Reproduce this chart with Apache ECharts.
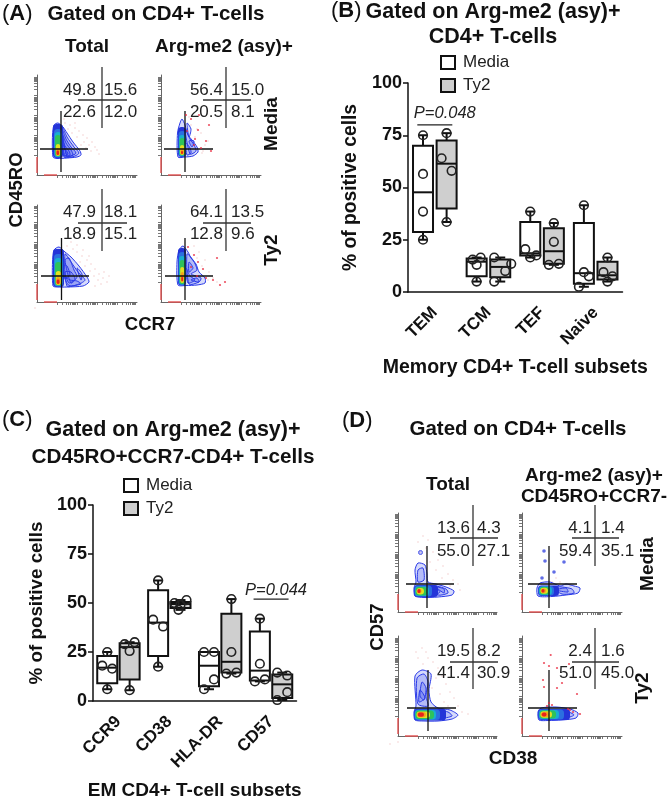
<!DOCTYPE html>
<html><head><meta charset="utf-8">
<style>html,body{margin:0;padding:0;background:#fff}#c{width:669px;height:801px}</style>
<script src="https://cdn.jsdelivr.net/npm/echarts@6/dist/echarts.min.js"></script>
</head><body><div id="c"></div>
<script>
// ---------- box plot data ----------
const catsB = ['TEM','TCM','TEF','Naive'];
const catsC = ['CCR9','CD38','HLA-DR','CD57'];
const yTicks = [0,25,50,75,100];
// [min, q1, median, q3, max]
const boxB_Media = [[25,28.7,47.7,70,75],[5,7.5,14.5,16,16.5],[16.5,17.5,18.5,33.5,38.5],[2.5,4,9,33,41.5]];
const boxB_Ty2   = [[33.5,40,61.4,72.5,76],[5,7,12,15.5,16.5],[13,13.5,19.5,30.5,33],[5,6,8,14.5,16.5]];
const boxC_Media = [[6,9,17,23,25],[17.5,23,40,56.5,61.5],[6,7.5,18,25,25],[10,10.5,15.5,35.5,42]];
const boxC_Ty2   = [[5.5,11,27.5,29.5,30],[46.5,47.5,49.5,50.5,51.5],[14,14.5,20,44.5,52],[0.5,1.5,8.5,13.5,14.5]];
const ptsB_Media = [[25,38.5,56.5,75],[5,13,15.5,16.5],[16.5,17.5,20.5,38.5],[2.5,7.5,9.5,41.5]];
const ptsB_Ty2   = [[33.5,58,64,76],[5,10,13.5,16.5],[13,13.5,24,33],[5,7.5,9.5,16.5]];
const ptsC_Media = [[6,16.5,18,25],[17.5,38,41.5,61.5],[6,11,25,25],[10,11,19,42]];
const ptsC_Ty2   = [[5.5,25.5,29,30],[46.5,49,50,51.5],[14,14.5,25,52],[0.5,4.5,13,14.5]];
// sideways dodge of the overlapping circles
const dodgeB_Media = [[0,0,0,0],[0,0,-4,4],[0,6,-5,0],[-5,5,0,0]];
const dodgeB_Ty2   = [[0,5,-5,0],[-6,5,11,-6],[-5,5,0,0],[0,5,-4,0]];
const dodgeC_Media = [[0,5,-5,0],[0,5,-5,0],[-5,5,-5,5],[-5,5,0,0]];
const dodgeC_Ty2   = [[0,0,-5,5],[-2,0,-6,6],[-5,5,0,0],[-5,5,5,-5]];

// ---------- flow cytometry panels ----------
const quadA1 = ['49.8','15.6','22.6','12.0'];
const quadA2 = ['56.4','15.0','20.5','8.1'];
const quadA3 = ['47.9','18.1','18.9','15.1'];
const quadA4 = ['64.1','13.5','12.8','9.6'];
const quadD1 = ['13.6','4.3','55.0','27.1'];
const quadD2 = ['4.1','1.4','59.4','35.1'];
const quadD3 = ['19.5','8.2','41.4','30.9'];
const quadD4 = ['2.4','1.6','51.0','45.0'];

const hazeA1 = [[28,52],[33,50],[38,47],[42,44],[46,40],[50,37],[52,30],[47,33],[40,38],[35,42],[31,46],[55,33],[58,28],[60,25],[44,30],[49,27],[54,24],[38,52],[27,56],[62,21],[36,30],[41,26]];
const hazeA2 = [[30,50],[36,46],[40,42],[44,30],[41,22],[47,34],[34,38],[28,58],[42,24]];
const hazeA3 = [[30,56],[36,53],[40,50],[45,46],[50,42],[54,38],[58,33],[62,28],[66,24],[70,20],[48,36],[53,31],[57,26],[61,22],[43,40],[34,60],[40,57],[46,52],[52,46],[67,30],[72,26],[64,18],[58,16],[-2,-6]];
const hazeA4 = [[33,56],[38,50],[44,42],[48,30],[52,24],[56,20],[36,44],[41,36],[47,22]];
const hazeD1 = [[20,70],[25,76],[30,72],[35,60],[40,52],[45,46],[50,38],[32,50],[38,42],[55,32],[60,28],[22,60],[28,64],[44,34],[62,22],[52,26]];
const hazeD2 = [[34,34],[38,30],[44,28],[48,26],[30,30]];
const hazeD3 = [[18,84],[24,88],[30,78],[35,74],[40,68],[25,72],[44,60],[48,52],[38,58],[52,44],[34,48],[42,42],[56,38],[60,30],[46,34],[64,24],[70,22],[20,78],[28,84],[50,30],[-8,-8],[0,-6]];
const dotsD2 = [[22,61],[23,51],[42,50],[32,40],[20,34]];
const dotsD4 = [[28.7,81],[22,73],[27,70],[35,68],[47,72],[21,56],[22,49],[35,48],[40,53],[55,42],[27,33],[30,31],[58,22],[51,24],[25,30],[46,27],[48,26]];
const dotsA2 = [[25,60],[30,56],[38,60],[48,50],[45,34],[37,45],[50,24],[33,30],[40,27],[26,44],[34,36]];
const dotsA4 = [[27,55],[33,47],[37,40],[42,33],[52,22],[59,17],[64,20],[36,26],[30,35],[45,24],[56,44]];

// contour outlines
const contA1 = [[[16,18],[15.5,40],[17,50],[21,52],[26,48],[30,42],[36,33],[43,24],[44,20],[40,18],[30,17],[20,16.5]],[[25,49],[30,38],[37,28],[42,22],[38,19],[30,18]],[[25,46],[29,36],[34,28],[39,22],[34,19],[27,18]],[[25,42],[29,32],[34,25],[36,20],[30,19]],[[25,36],[28,29],[32,24],[33,20],[28,19]],[[25,32],[28,26],[31,21],[27,19]]];
const contA2 = [[[17,18],[16.5,42],[19,52],[21,56],[24,50],[27,40],[31,35],[36,28],[37,23],[32,19],[24,18]],[[24,46],[29,36],[33,30],[35,24],[29,21]],[[26,52],[30,46],[28,38]],[[28,34],[33,34],[31,28]],[[25,32],[29,27],[30,22],[26,20]]];
const contA3 = [[[16,16],[15.5,40],[17,52],[22,55],[28,50],[34,45],[42,36],[50,25],[52,20],[46,16],[30,15],[20,15]],[[28,48],[34,40],[41,30],[48,22],[42,18],[30,16]],[[28,42],[32,44],[37,32],[40,25],[34,19]],[[28,30],[34,30],[38,23],[32,19]],[[40,34],[45,28],[44,22]],[[27,26],[33,22],[40,21],[44,18],[32,16.5]],[[27,37],[30,36],[33,27],[28,24]]];
const contA4 = [[[17,17],[16,40],[18,52],[22,56],[27,50],[30,44],[35,38],[38,30],[44,24],[44,19],[36,17],[25,16.5]],[[26,48],[32,42],[36,32],[30,28],[40,24],[38,20],[28,18]],[[28,40],[32,34],[28,30]],[[30,22],[36,24],[38,20]],[[25,34],[29,26],[34,22],[27,19]]];
const contD1 = [[[17,16],[16,24],[18,30],[17,42],[20,49],[27,47],[29,38],[30,30],[38,28],[48,25],[56,21],[54,17],[40,15],[26,14.5]],[[20,30],[20,42],[25,44],[26,32]],[[36,26],[48,23],[50,19],[40,17]],[[27,25],[36,25],[42,20],[34,17]],[[21,61],[24,61],[24,58],[21,58]],[[38,25],[46,23],[46,19]]];
const contD2 = [[[16,16],[15,24],[18,29],[28,30],[38,26],[44,28],[52,26],[58,24],[56,19],[44,17],[30,15.5]],[[30,25],[40,25],[50,23],[52,19],[40,18]],[[34,22],[44,24],[46,20]]];
const contD3 = [[[17,16],[16,24],[18,30],[17,60],[24,66],[33,62],[31,46],[33,34],[40,28],[52,26],[60,21],[54,17],[40,15],[26,15]],[[20,32],[19,58],[26,62],[30,54],[28,40],[30,30]],[[22,40],[24,54],[28,48],[26,36]],[[36,26],[50,24],[54,20],[42,18]],[[28,26],[40,24],[46,20],[36,17]],[[21,34],[22,46],[27,38]]];
const contD4 = [[[17,16],[16,24],[19,28],[34,29],[48,27],[56,23],[54,18],[40,16],[26,15.5]],[[30,26],[44,25],[52,21],[42,18]]];

// filled density levels: [x0, x1, y0, y1]
const coreA1 = [[16,26,17,51],[17,25,17.5,46],[17.5,24.5,18,43],[18,24,18.5,40],[18.8,23.2,19,31],[19.2,22.8,19.5,27],[19.5,22,20,24.5]];
const coreA2 = [[17,25,18,48],[17.6,24.6,18.5,44],[18,24.2,19,40],[18.5,23.8,19.5,37],[19,23.2,20,30],[19.5,22.8,20.5,26],[20,22,21,24]];
const coreA3 = [[16,27,15,53],[17,26,15.5,48],[17.5,25.3,16,44],[18,24.8,16.5,40],[18.8,24,17,31],[19.2,23,17.5,25],[19.6,22.5,18,22.5]];
const coreA4 = [[17,25,16.5,54],[17.6,24.6,17,50],[18,24.2,17.5,46],[18.6,23.8,18,42],[19.2,23.2,19,35],[19.8,22.8,20,30],[20.3,22,21,25]];
const coreD1 = [[16,40,15,27],[16.5,34,15.5,26.5],[17,31,16,25.5],[17.5,29,16.5,25],[18.5,26,17.5,24],[19,23.5,18.5,23.5],[19.5,22.5,19,23]];
const coreD2 = [[16,37,16,26.5],[16.5,32,16.5,26],[17,30,17,25.5],[17.5,28,17.5,25],[18.3,26,18.3,24.3],[18.8,24,19,23.5],[19.5,22.5,19.5,23]];
const coreD3 = [[16,48,15.5,27.5],[16.5,42,16,26.5],[17,38,16.5,26],[17.5,36,17,25.5],[18.5,32,18,24.5],[19,28,18.8,24],[19.8,26,19.2,23.4]];
const coreD4 = [[16,48,16,27],[16.5,42,16.5,26.5],[17,37,17,26],[17.5,34,17.5,25.5],[18.3,30,18.3,24.8],[19,27,19,24],[19.8,24.5,19.5,23.5]];

// ---------- fixed page layout ----------
const FONT = '"Liberation Sans", Arial, sans-serif';
const INK = '#111';
const levels = ['#2434d8','#2b6fe0','#18aed0','#2ec25a','#e3e021','#f5a01e','#e8231c'];

const panels = [
 {g:[37,75,100,100], q:quadA1, c:contA1, k:coreA1, h:hazeA1, up:[41,90,75,65,108,47], lo:[3,51,26,24,64,3], n:[59,67,85,63]},
 {g:[161,75,100,100],q:quadA2, c:contA2, k:coreA2, h:hazeA2, up:[42,90,75,65,108,47], lo:[3,52,26,24,64,3], n:[62,70,85,63], d:dotsA2},
 {g:[37,205,100,97], q:quadA3, c:contA3, k:coreA3, h:hazeA3, up:[41,90,79,65,113,51], lo:[4,52,26,24.5,64,2], n:[59,67,90,68]},
 {g:[161,205,100,97],q:quadA4, c:contA4, k:coreA4, h:hazeA4, up:[42,90,79,65,113,51], lo:[4,52,26,24,64,2], n:[62,70,90,68], d:dotsA4},
 {g:[398,513,99,99], q:quadD1, c:contD1, k:coreD1, h:hazeD1, up:[52,100,74,75,107,46], lo:[8,56,28,29,66,4], n:[72,79,84,61]},
 {g:[522,513,100,99],q:quadD2, c:contD2, k:coreD2, h:hazeD2, up:[50,97,74,73,107,46], lo:[6,55,28,27,66,4], n:[70,79,84,61], d:dotsD2, dc:'#3a48e0'},
 {g:[398,636,99,100],q:quadD3, c:contD3, k:coreD3, h:hazeD3, up:[52,100,74,75,108,47], lo:[9,58,28,30,66,5], n:[72,79,85,63]},
 {g:[522,636,100,100],q:quadD4,c:contD4, k:coreD4, h:[], up:[50,97,74,73,108,47], lo:[6,55,28,27,66,5], n:[70,79,85,63], d:dotsD4}
];
const logTicks = [];
[20,40,60,80].forEach(b=>[1,2,3,4,5,6,7,8,9].forEach(k=>logTicks.push(b+Math.log10(k)*19)));

const grid=[],xAxis=[],yAxis=[],series=[];
function lineEl(api,a,b,color,w){
  const p=api.coord(a),q=api.coord(b);
  return {type:'line',shape:{x1:p[0],y1:p[1],x2:q[0],y2:q[1]},style:{stroke:color,lineWidth:w}};
}
panels.forEach((P,i)=>{
  grid.push({left:P.g[0],top:P.g[1],width:P.g[2],height:P.g[3]});
  const ax=(m)=>({type:'value',gridIndex:i,min:0,max:m,splitLine:{show:false},axisLabel:{show:false},
    axisLine:{show:true,lineStyle:{color:'#666',width:1}},
    axisTick:{show:true,length:3,customValues:logTicks.filter(v=>v<=m),lineStyle:{color:'#666',width:0.9}}});
  xAxis.push(ax(P.g[2])); yAxis.push(ax(P.g[3]));
  series.push({type:'scatter',name:'events'+i,xAxisIndex:i,yAxisIndex:i,data:P.h,symbolSize:1.4,clip:false,silent:true,
    itemStyle:{color:'#eaa0a0',opacity:.6},z:1});
  if(P.d) series.push({type:'scatter',name:'rare'+i,xAxisIndex:i,yAxisIndex:i,data:P.d,symbolSize:P.dc?3.6:2.2,silent:true,
    itemStyle:{color:P.dc||'#e8283c'},z:4});
  series.push({type:'custom',name:'gate'+i,xAxisIndex:i,yAxisIndex:i,silent:true,z:3,data:[[0,0]],
    renderItem:(params,api)=>{
      const kids=[];
      // red edge of the axes
      kids.push(lineEl(api,[7,0],[20,0],'#e25050',1.4));
      kids.push(lineEl(api,[0,2],[0,18],'#e25050',1.4));
      P.c.forEach((poly,j)=>kids.push({type:'polygon',shape:{points:poly.map(v=>api.coord(v)),smooth:0.25},
        style:{fill:'rgba(50,70,235,.2)',stroke:'#2a3ae8',lineWidth:1}}));
      P.k.forEach((r,j)=>{
        const a=api.coord([r[0],r[3]]),b=api.coord([r[1],r[2]]);
        kids.push({type:'rect',shape:{x:a[0],y:a[1],width:b[0]-a[0],height:b[1]-a[1],r:Math.min(3.5,(b[0]-a[0])/2,(b[1]-a[1])/2)},style:{fill:levels[j]}});
      });
      const [ux0,ux1,uy,uvx,uv1,uv0]=P.up, [lx0,lx1,ly,lvx,lv1,lv0]=P.lo;
      kids.push(lineEl(api,[ux0,uy],[ux1,uy],'#333',1.3));
      kids.push(lineEl(api,[uvx,uv1],[uvx,uv0],'#333',1.3));
      kids.push(lineEl(api,[lx0,ly],[lx1,ly],'#111',1.3));
      kids.push(lineEl(api,[lvx,lv1],[lvx,lv0],'#111',1.3));
      const pos=[[P.n[0],P.n[2],'right'],[P.n[1],P.n[2],'left'],[P.n[0],P.n[3],'right'],[P.n[1],P.n[3],'left']];
      P.q.forEach((t,j)=>{
        const c=api.coord([pos[j][0],pos[j][1]]);
        kids.push({type:'text',x:c[0],y:c[1],style:{text:t,fontFamily:FONT,fontSize:17,fill:'#222',align:pos[j][2],verticalAlign:'middle'}});
      });
      return {type:'group',children:kids};
    }});
});

// ---------- box plot panels ----------
function boxSeries(name,gi,box,pts,dodge,fill,side){
  return {type:'custom',name,xAxisIndex:gi,yAxisIndex:gi,z:5,silent:true,
    itemStyle:{color:fill,borderColor:INK,borderWidth:2},
    data:box.map((b,i)=>[i,...b]),
    encode:{x:0,y:[1,5]},
    renderItem:(params,api)=>{
      const i=api.value(0),off=side*api.size([1,0])[0]*0.22,w=20;
      const c=v=>api.coord([i,v]);
      const X=c(0)[0]+off,vals=[1,2,3,4,5].map(k=>c(api.value(k))[1]);
      const [mn,q1,md,q3,mx]=vals;
      const stroke={stroke:INK,lineWidth:2};
      const L=(x1,y1,x2,y2)=>({type:'line',shape:{x1,y1,x2,y2},style:stroke});
      const kids=[
        L(X,q3,X,mx),L(X-5,mx,X+5,mx),L(X,q1,X,mn),L(X-5,mn,X+5,mn),
        {type:'rect',shape:{x:X-w/2,y:q3,width:w,height:q1-q3},style:{fill,stroke:INK,lineWidth:2}},
        L(X-w/2,md,X+w/2,md)
      ];
      pts[i].forEach((v,j)=>kids.push({type:'circle',shape:{cx:X+dodge[i][j],cy:c(v)[1],r:4.3},style:{fill:'none',stroke:'#222',lineWidth:1.6}}));
      return {type:'group',children:kids};
    }};
}
function addBoxGrid(g,cats,name,nameGap,nameSize,yName,yGap,ySize){
  const gi=grid.length;
  grid.push({left:g[0],top:g[1],width:g[2],height:g[3]});
  xAxis.push({type:'category',gridIndex:gi,data:cats,name,nameLocation:'middle',nameGap,
    nameTextStyle:{fontFamily:FONT,fontWeight:'bold',fontSize:nameSize,color:INK},
    axisLine:{lineStyle:{color:INK,width:1.5}},axisTick:{alignWithLabel:true,length:5,lineStyle:{color:INK,width:1.5}},
    axisLabel:{rotate:45,interval:0,margin:18,fontFamily:FONT,fontWeight:'bold',fontSize:17,color:INK}});
  yAxis.push({type:'value',gridIndex:gi,min:0,max:100,interval:25,name:yName,nameLocation:'middle',nameRotate:90,nameGap:yGap,
    nameTextStyle:{fontFamily:FONT,fontWeight:'bold',fontSize:ySize,color:INK},splitLine:{show:false},
    axisLine:{show:true,lineStyle:{color:INK,width:1.5}},axisTick:{show:true,length:5,lineStyle:{color:INK,width:1.5}},
    axisLabel:{margin:6,fontFamily:FONT,fontWeight:'bold',fontSize:18,color:INK,customValues:yTicks}});
  return gi;
}
const gB=addBoxGrid([408,83,214.5,209],catsB,'Memory CD4+ T-cell subsets',66,19.5,'% of positive cells',48,19.3);
const gC=addBoxGrid([93,505,203.5,199],catsC,'EM CD4+ T-cell subsets',80,19,'% of positive cells',47,18.8);
series.push(boxSeries('Media',gB,boxB_Media,ptsB_Media,dodgeB_Media,'#fff',-1));
series.push(boxSeries('Ty2',gB,boxB_Ty2,ptsB_Ty2,dodgeB_Ty2,'#cfcfcf',1));
series.push(boxSeries('Media',gC,boxC_Media,ptsC_Media,dodgeC_Media,'#fff',-1));
series.push(boxSeries('Ty2',gC,boxC_Ty2,ptsC_Ty2,dodgeC_Ty2,'#cfcfcf',1));

// significance brackets
function pBracket(gi,cat,val,text,yText,dx){
  return {type:'custom',name:text,xAxisIndex:gi,yAxisIndex:gi,z:6,silent:true,data:[[cat,val]],
    renderItem:(params,api)=>{
      const c=api.coord([api.value(0),api.value(1)]);
      return {type:'group',children:[
        {type:'line',shape:{x1:c[0]-17.5,y1:c[1],x2:c[0]+17.5,y2:c[1]},style:{stroke:'#222',lineWidth:1.3}},
        {type:'text',x:c[0]+dx,y:c[1]+yText,style:{text,fontFamily:FONT,fontStyle:'italic',fontSize:16.5,fill:'#222',align:'center',verticalAlign:'middle'}}
      ]};
    }};
}
series.push(pBracket(gB,0,80,'P=0.048',-11,10));
series.push(pBracket(gC,3,52,'P=0.044',-9,5));

const legendStyle=(left,top)=>({orient:'vertical',left,top,itemWidth:14,itemHeight:13,itemGap:6,padding:0,
  textStyle:{fontFamily:FONT,fontSize:17,color:'#222',padding:[0,0,0,3]},selectedMode:false,
  data:[{name:'Media',icon:'rect',itemStyle:{color:'#fff',borderColor:INK,borderWidth:2}},
        {name:'Ty2',icon:'rect',itemStyle:{color:'#cfcfcf',borderColor:INK,borderWidth:2}}]});

// ---------- text ----------
const head=(text,x,y,size)=>({text,left:x,top:y,textAlign:'center',textVerticalAlign:'middle',padding:0,
  textStyle:{fontFamily:FONT,fontWeight:'bold',fontSize:size,color:INK}});
const title=[
 head('Gated on CD4+ T-cells',156,14,20.5),
 head('Gated on Arg-me2 (asy)+',493,12,21.5), head('CD4+ T-cells',493,37,21.5),
 head('Gated on Arg-me2 (asy)+',173,430,21.5), head('CD45RO+CCR7-CD4+ T-cells',173,457,20.7),
 head('Gated on CD4+ T-cells',518,429,20.5),
 head('Total',87,47,19), head('Arg-me2 (asy)+',224,47,19),
 head('CCR7',150,325,18.5),
 head('Total',448,485,19), head('Arg-me2 (asy)+',594,476,19), head('CD45RO+CCR7-',594,497,19),
 head('CD38',513,759,19)
];
const rot=(text,x,y,size)=>({type:'text',x,y,rotation:Math.PI/2,silent:true,
  style:{text,fontFamily:FONT,fontWeight:'bold',fontSize:size,fill:INK,align:'center',verticalAlign:'middle'}});
const letter=(L,x,y)=>({type:'text',x,y,silent:true,style:{text:'{r|(}{b|'+L+'}{r|)}',
  rich:{r:{fontFamily:FONT,fontSize:22,fill:INK},b:{fontFamily:FONT,fontWeight:'bold',fontSize:22,fill:INK}},verticalAlign:'middle'}});
const graphic={elements:[
 letter('A',2,14),letter('B',331,11),letter('C',2,420),letter('D',342,421),
 rot('CD45RO',17,190,18.5),rot('Media',272,124,19),rot('Ty2',272,250,19),
 rot('CD57',378,627,18.5),rot('Media',648,564,19),rot('Ty2',643,688,19)
]};

const chart=echarts.init(document.getElementById('c'),null,{renderer:'canvas',width:669,height:801});
chart.setOption({animation:false,backgroundColor:'#fff',title,grid,xAxis,yAxis,series,graphic,
  legend:[legendStyle(440,54),legendStyle(123,477)]});
</script></body></html>
